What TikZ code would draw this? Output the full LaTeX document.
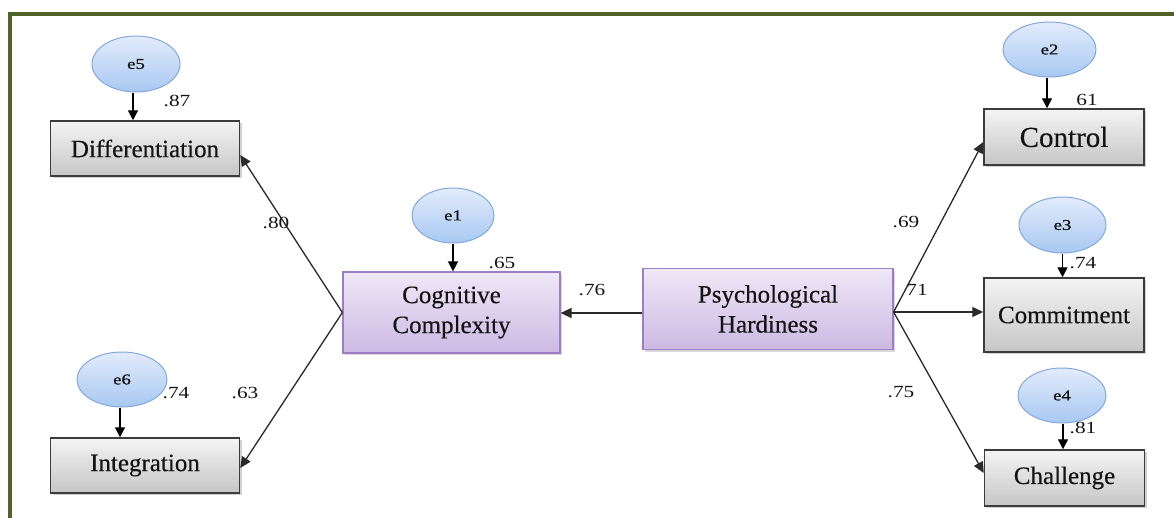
\documentclass[tikz,border=0pt]{standalone}
\usepackage{fontspec}
\setmainfont{Liberation Serif}[FakeBold=0.4]
\newfontfamily\widefont{Liberation Serif}[FakeStretch=1.25]
\newfontfamily\errfont{Liberation Serif}[FakeStretch=1.25,FakeBold=1]
\usetikzlibrary{arrows.meta,shadows,calc,shapes.geometric}

\definecolor{framegreen}{HTML}{4F6228}
\definecolor{obsborder}{HTML}{3C3C3C}
\definecolor{obstop}{HTML}{F4F4F4}
\definecolor{obsbottom}{HTML}{C6C6C6}
\definecolor{latborder}{HTML}{9C7EC4}
\definecolor{lattop}{HTML}{EFE8F7}
\definecolor{latbottom}{HTML}{CDB9E3}
\definecolor{errborder}{HTML}{84A8DC}
\definecolor{errtop}{HTML}{E2ECFB}
\definecolor{errbottom}{HTML}{A8C8F2}
\definecolor{ink}{HTML}{141414}
\definecolor{pathgray}{HTML}{2A2A2A}

\tikzset{
  obs/.style={draw=obsborder, line width=1.5pt, top color=obstop, bottom color=obsbottom,
    text=ink, font=\fontsize{25}{30}\selectfont, inner sep=0pt,
    drop shadow={shadow xshift=2pt, shadow yshift=-2pt, opacity=0.35}},
  lat/.style={draw=latborder, line width=1.2pt, top color=lattop, bottom color=latbottom,
    text=ink, font=\fontsize{25}{30}\selectfont, align=center, inner sep=0pt,
    drop shadow={shadow xshift=2pt, shadow yshift=-2pt, opacity=0.3}},
  err/.style={ellipse, draw=errborder, line width=1pt, top color=errtop, bottom color=errbottom,
    text=ink, font=\errfont\fontsize{15}{18}\selectfont, inner sep=0pt},
  coef/.style={text=ink, font=\widefont\fontsize{17}{20}\selectfont, inner sep=0pt},
  path/.style={draw=pathgray, line width=1.3pt, -{Triangle[length=11pt,width=10pt]}},
  errpath/.style={draw=black, line width=1.4pt, -{Triangle[length=10pt,width=10pt]}},
}

\begin{document}
\begin{tikzpicture}[x=1pt,y=-1pt]
\useasboundingbox (0,0) rectangle (1174,517);
\fill[white] (0,0) rectangle (1174,517);

% outer frame (left and top edges)
\draw[framegreen, line width=4pt, line join=miter] (10,520) -- (10,14) -- (1176,14);

% latent constructs
\node[lat, minimum width=217pt, minimum height=81pt] (cc) at (451.5,312.5) {Cognitive\\Complexity};
\node[lat, minimum width=250pt, minimum height=81pt] (ph) at (768,309) {Psychological\\Hardiness};

% observed indicators
\node[obs, minimum width=189pt, minimum height=55pt] (diff) at (145,148.5) {Differentiation};
\node[obs, minimum width=189pt, minimum height=55pt] (integ) at (145,465.5) {Integration};
\node[obs, minimum width=160pt, minimum height=56pt, font=\fontsize{29}{32}\selectfont] (control) at (1064,137) {Control};
\node[obs, minimum width=160pt, minimum height=74pt] (commit) at (1064,315) {Commitment};
\node[obs, minimum width=160pt, minimum height=56pt] (chall) at (1064.5,478) {Challenge};

% error terms
\node[err, minimum width=88pt, minimum height=56pt] (e5) at (136,64) {e5};
\node[err, minimum width=90pt, minimum height=55pt] (e6) at (122,379.5) {e6};
\node[err, minimum width=82pt, minimum height=55pt] (e1) at (453,215.5) {e1};
\node[err, minimum width=93pt, minimum height=55pt] (e2) at (1049.5,49.5) {e2};
\node[err, minimum width=87pt, minimum height=56pt] (e3) at (1062.5,225) {e3};
\node[err, minimum width=88pt, minimum height=55pt] (e4) at (1062,395.5) {e4};

% error paths
\draw[errpath] ([xshift=-3pt]e5.south) -- ([xshift=-3pt]e5.south |- diff.north);
\draw[errpath] ([xshift=-2pt]e6.south) -- ([xshift=-2pt]e6.south |- integ.north);
\draw[errpath] (e1.south) -- (e1.south |- cc.north);
\draw[errpath] ([xshift=-2.5pt]e2.south) -- ([xshift=-2.5pt]e2.south |- control.north);
\draw[errpath] (e3.south) -- (e3.south |- commit.north);
\draw[errpath] ([xshift=1pt]e4.south) -- ([xshift=1pt]e4.south |- chall.north);

% structural paths
\draw[path] (cc.west) -- ($(diff.east)+(0,6.5)$);
\draw[path] (cc.west) -- ($(integ.east)+(0,2.5)$);
\draw[path] ($(ph.west)+(0,4)$) -- ($(cc.east)+(0,0.5)$);
\draw[path] ($(ph.east)+(0,3)$) -- ($(control.west)+(0,5)$);
\draw[path] ($(ph.east)+(0,3)$) -- ($(commit.west)+(0,-3)$);
\draw[path] ($(ph.east)+(0,3)$) -- ($(chall.west)+(0,-5)$);

% coefficients
\node[coef] (c87) at (177,101) {.87};
\node[coef] (c80) at (276,223) {.80};
\node[coef] (c74a) at (176,393) {.74};
\node[coef] (c63) at (245,393) {.63};
\node[coef] (c65) at (502,263) {.65};
\node[coef] (c76) at (592,290) {.76};
\node[coef] (c69) at (906,222) {.69};
\node[coef] (c61) at (1087,100) {61};
\node[coef] (c74b) at (1083,263) {.74};
\node[coef] (c71) at (917,290) {71};
\node[coef] (c75) at (901,392) {.75};
\node[coef] (c81) at (1083,428) {.81};
\end{tikzpicture}
\end{document}
